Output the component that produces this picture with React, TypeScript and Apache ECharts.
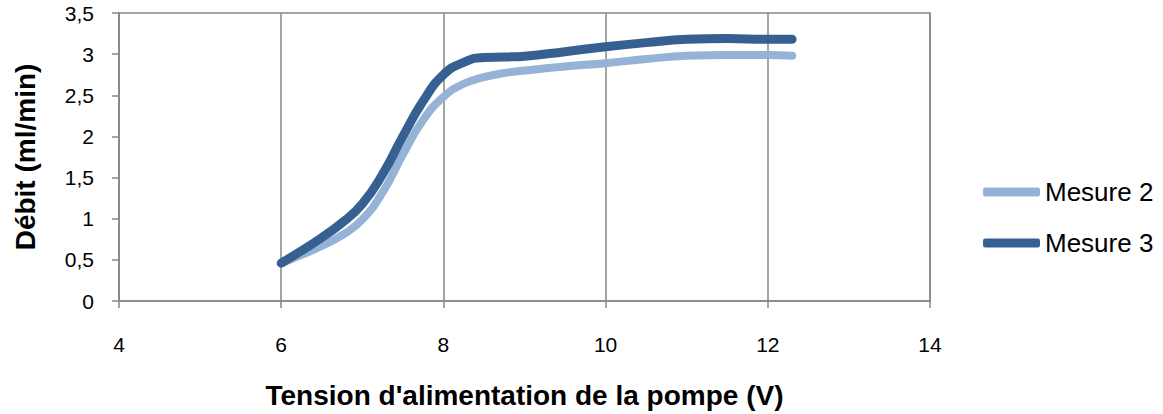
import React, { useEffect, useRef } from "react";
import * as echarts from "echarts";

const tensions = [6, 6.25, 6.5, 6.75, 7, 7.25, 7.5, 7.75, 8, 8.25, 8.5, 8.75, 9, 9.5, 10, 10.5, 11, 11.5, 12, 12.3];
const mesure2 = [0.46, 0.56, 0.67, 0.8, 0.99, 1.32, 1.78, 2.2, 2.48, 2.64, 2.72, 2.77, 2.8, 2.85, 2.89, 2.94, 2.98, 2.99, 2.99, 2.98];
const mesure3 = [0.46, 0.61, 0.77, 0.95, 1.18, 1.54, 2.0, 2.43, 2.75, 2.9, 2.96, 2.965, 2.975, 3.03, 3.09, 3.14, 3.18, 3.19, 3.18, 3.18];
const seriesNames = ["Mesure 2", "Mesure 3"];
const xTitle = "Tension d'alimentation de la pompe (V)";
const yTitle = "Débit (ml/min)";

const FONT = "'Liberation Sans', Arial, sans-serif";
const GRAY = "#878787";

export default function App() {
  const ref = useRef<HTMLDivElement>(null);
  useEffect(() => {
    document.body.style.margin = "0";
    const chart = echarts.init(ref.current!, null, { renderer: "svg" });
    const pair = (xs: number[], ys: number[]) => xs.map((x, i) => [x, ys[i]]);
    chart.setOption({
      animation: false,
      textStyle: { fontFamily: FONT },
      grid: {
        left: 119,
        right: 233,
        top: 13,
        bottom: 113,
        show: true,
        borderColor: GRAY,
        borderWidth: 1.5,
      },
      legend: {
        orient: "vertical",
        left: 978,
        top: 174,
        itemWidth: 57,
        itemHeight: 9,
        itemGap: 25,
        icon: "roundRect",
        textStyle: { fontSize: 26, color: "#000", fontFamily: FONT },
        data: seriesNames,
      },
      xAxis: {
        type: "value",
        min: 4,
        max: 14,
        interval: 2,
        name: xTitle,
        nameLocation: "middle",
        nameGap: 80,
        nameTextStyle: { fontSize: 28, fontWeight: "bold", color: "#000", fontFamily: FONT },
        axisLine: { show: true, lineStyle: { color: GRAY, width: 1.5 } },
        axisTick: { show: true, length: 7, lineStyle: { color: GRAY, width: 1.5 } },
        axisLabel: { fontSize: 21, color: "#000", margin: 33, fontFamily: FONT },
        splitLine: { show: true, lineStyle: { color: GRAY, width: 1.5 } },
      },
      yAxis: {
        type: "value",
        min: 0,
        max: 3.5,
        interval: 0.5,
        name: yTitle,
        nameLocation: "middle",
        nameGap: 80,
        nameTextStyle: { fontSize: 28, fontWeight: "bold", color: "#000", fontFamily: FONT },
        axisLine: { show: true, lineStyle: { color: GRAY, width: 1.5 } },
        axisTick: { show: true, length: 7, lineStyle: { color: GRAY, width: 1.5 } },
        axisLabel: {
          fontSize: 21,
          color: "#000",
          margin: 25,
          fontFamily: FONT,
          formatter: (v: number) => String(v).replace(".", ","),
        },
        splitLine: { show: false },
      },
      series: [
        {
          name: seriesNames[0],
          type: "line",
          data: pair(tensions, mesure2),
          smooth: 0.5,
          showSymbol: false,
          symbol: "none",
          color: "#95B3D7",
          lineStyle: { width: 8, color: "#95B3D7", cap: "round", join: "round" },
        },
        {
          name: seriesNames[1],
          type: "line",
          data: pair(tensions, mesure3),
          smooth: 0.5,
          showSymbol: false,
          symbol: "none",
          color: "#376092",
          lineStyle: { width: 9, color: "#376092", cap: "round", join: "round" },
        },
      ],
    });
    return () => chart.dispose();
  }, []);
  return <div ref={ref} style={{ width: 1163, height: 414 }} />;
}
